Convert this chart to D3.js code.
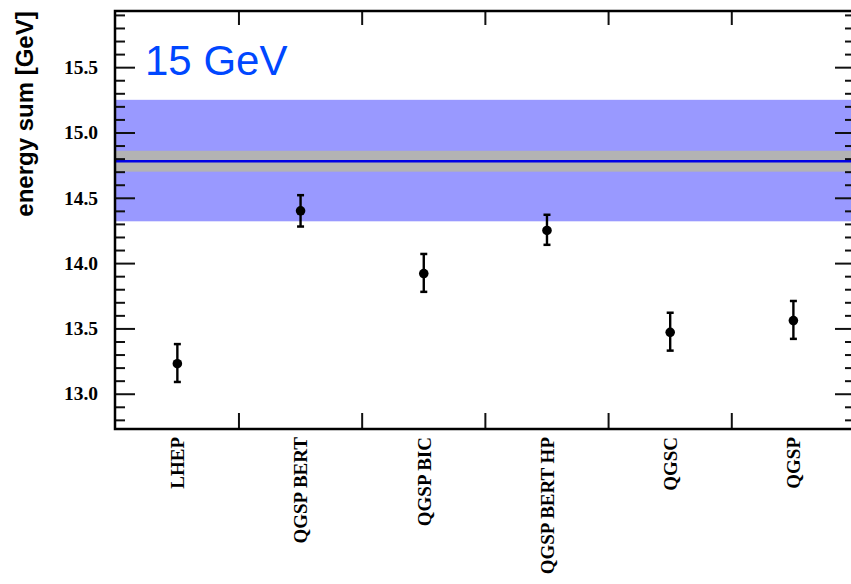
<!DOCTYPE html>
<html>
<head>
<meta charset="utf-8">
<script src="https://cdn.jsdelivr.net/npm/d3@7"></script>
<style>
  body { margin: 0; background: #fff; }
  #chart { width: 851px; height: 584px; }
</style>
</head>
<body>
<div id="chart"><svg></svg></div>
<script>
// physics lists on the x axis
const models = ["LHEP", "QGSP BERT", "QGSP BIC", "QGSP BERT HP", "QGSC", "QGSP"];
// simulated energy sum [GeV] with error bars
const energySum = [13.23, 14.40, 13.92, 14.25, 13.47, 13.56];
const errTop = [13.38, 14.52, 14.07, 14.37, 13.62, 13.71];
const errBottom = [13.09, 14.28, 13.78, 14.14, 13.33, 13.42];
// data: mean, statistical band, systematic band
const dataMean = 14.78;
const dataStat = [14.70, 14.86];
const dataSys = [14.32, 15.25];
const yTicks = [13.0, 13.5, 14.0, 14.5, 15.0, 15.5];
const beamLabel = "15 GeV";

const width = 851;
const height = 584;
const margin = {top: 11, right: -4, bottom: 155, left: 115};
const plotRight = width - margin.right;
const plotBottom = height - margin.bottom;

var svg = d3.select("#chart").select("svg")
    .attr("width", width)
    .attr("height", height);

var xScale = d3.scaleBand()
    .domain(models)
    .range([margin.left + 0.75, plotRight]);

var yScale = d3.scaleLinear()
    .domain([12.73, 15.93])
    .range([plotBottom, margin.top]);

const points = models.map((m, i) => ({model: m, value: energySum[i], hi: errTop[i], lo: errBottom[i]}));

// bands
svg.append("rect")
    .attr("x", margin.left)
    .attr("width", plotRight - margin.left)
    .attr("y", yScale(dataSys[1]))
    .attr("height", yScale(dataSys[0]) - yScale(dataSys[1]))
    .attr("fill", "#9999ff");

svg.append("rect")
    .attr("x", margin.left)
    .attr("width", plotRight - margin.left)
    .attr("y", yScale(dataStat[1]))
    .attr("height", yScale(dataStat[0]) - yScale(dataStat[1]))
    .attr("fill", "#b3b3b3");

svg.append("line")
    .attr("x1", margin.left)
    .attr("x2", plotRight)
    .attr("y1", yScale(dataMean))
    .attr("y2", yScale(dataMean))
    .attr("stroke", "#0000e6")
    .attr("stroke-width", 2.5);

// minor ticks every 0.1
var minorVals = d3.range(12.8, 15.95, 0.1).map(v => Math.round(v * 10) / 10)
    .filter(v => !yTicks.includes(v));

svg.append("g")
    .attr("transform", "translate(" + margin.left + ",0)")
    .call(d3.axisLeft(yScale).tickValues(minorVals).tickSizeInner(-10).tickSizeOuter(0).tickFormat(""))
    .call(g => g.select(".domain").remove());

svg.append("g")
    .attr("transform", "translate(" + plotRight + ",0)")
    .call(d3.axisRight(yScale).tickValues(minorVals).tickSizeInner(-10).tickSizeOuter(0).tickFormat(""))
    .call(g => g.select(".domain").remove());

svg.append("g")
    .attr("transform", "translate(" + plotRight + ",0)")
    .call(d3.axisRight(yScale).tickValues(yTicks).tickSizeInner(-20).tickSizeOuter(0).tickFormat(""))
    .call(g => g.select(".domain").remove());

svg.append("g")
    .attr("class", "yAxis")
    .attr("transform", "translate(" + margin.left + ",0)")
    .call(d3.axisLeft(yScale).tickValues(yTicks).tickSizeInner(-20).tickSizeOuter(0)
        .tickPadding(17).tickFormat(d3.format(".1f")))
    .call(g => g.select(".domain").remove())
    .selectAll("text")
    .attr("font-family", "'Liberation Serif', 'Times New Roman', serif")
    .attr("font-weight", "bold")
    .attr("font-size", "19.5px")
    .attr("fill", "#000");

svg.selectAll(".tick line").attr("stroke", "#111").attr("stroke-width", 2);

// category boundary ticks (bottom up, top down)
var bounds = models.slice(1);
svg.selectAll(".btick")
    .data(bounds)
    .enter()
    .append("line")
    .attr("x1", d => xScale(d))
    .attr("x2", d => xScale(d))
    .attr("y1", plotBottom)
    .attr("y2", plotBottom - 16)
    .attr("stroke", "#111")
    .attr("stroke-width", 2);

svg.selectAll(".ttick")
    .data(bounds)
    .enter()
    .append("line")
    .attr("x1", d => xScale(d))
    .attr("x2", d => xScale(d))
    .attr("y1", margin.top)
    .attr("y2", margin.top + 14)
    .attr("stroke", "#111")
    .attr("stroke-width", 2);

// category labels
svg.append("g")
    .attr("class", "xAxis")
    .attr("transform", "translate(0," + plotBottom + ")")
    .call(d3.axisBottom(xScale).tickSize(0).tickPadding(0))
    .call(g => g.select(".domain").remove())
    .selectAll("text")
    .attr("font-family", "'Liberation Serif', 'Times New Roman', serif")
    .attr("font-weight", "bold")
    .attr("font-size", "19px")
    .attr("fill", "#000")
    .style("text-anchor", "end")
    .attr("x", -8)
    .attr("y", 0)
    .attr("dy", "0.36em")
    .attr("transform", "rotate(-90)");

// frame
svg.append("rect")
    .attr("x", margin.left)
    .attr("y", margin.top)
    .attr("width", plotRight - margin.left)
    .attr("height", plotBottom - margin.top)
    .attr("fill", "none")
    .attr("stroke", "#000")
    .attr("stroke-width", 2.5);

// error bars and markers
var cx = d => xScale(d.model) + xScale.bandwidth() / 2;
var pts = svg.append("g").attr("class", "points");

pts.selectAll(".err")
    .data(points)
    .enter()
    .append("line")
    .attr("x1", cx).attr("x2", cx)
    .attr("y1", d => yScale(d.hi))
    .attr("y2", d => yScale(d.lo))
    .attr("stroke", "#000")
    .attr("stroke-width", 2.4);

["hi", "lo"].forEach(function(k) {
    pts.selectAll(".cap-" + k)
        .data(points)
        .enter()
        .append("line")
        .attr("x1", d => cx(d) - 3.5).attr("x2", d => cx(d) + 3.5)
        .attr("y1", d => yScale(d[k]))
        .attr("y2", d => yScale(d[k]))
        .attr("stroke", "#000")
        .attr("stroke-width", 2.5);
});

pts.selectAll("circle")
    .data(points)
    .enter()
    .append("circle")
    .attr("cx", cx)
    .attr("cy", d => yScale(d.value))
    .attr("r", 4.8)
    .attr("fill", "#000");

// titles
svg.append("text")
    .attr("transform", "translate(32.5," + 114 + ") rotate(-90)")
    .style("text-anchor", "middle")
    .attr("font-family", "'Liberation Sans', Arial, sans-serif")
    .attr("font-weight", "bold")
    .attr("font-size", "24px")
    .text("energy sum [GeV]");

svg.append("text")
    .attr("x", 145)
    .attr("y", 75)
    .attr("font-family", "'Liberation Sans', Arial, sans-serif")
    .attr("font-size", "42px")
    .attr("fill", "#0047ff")
    .text(beamLabel);
</script>
</body>
</html>
